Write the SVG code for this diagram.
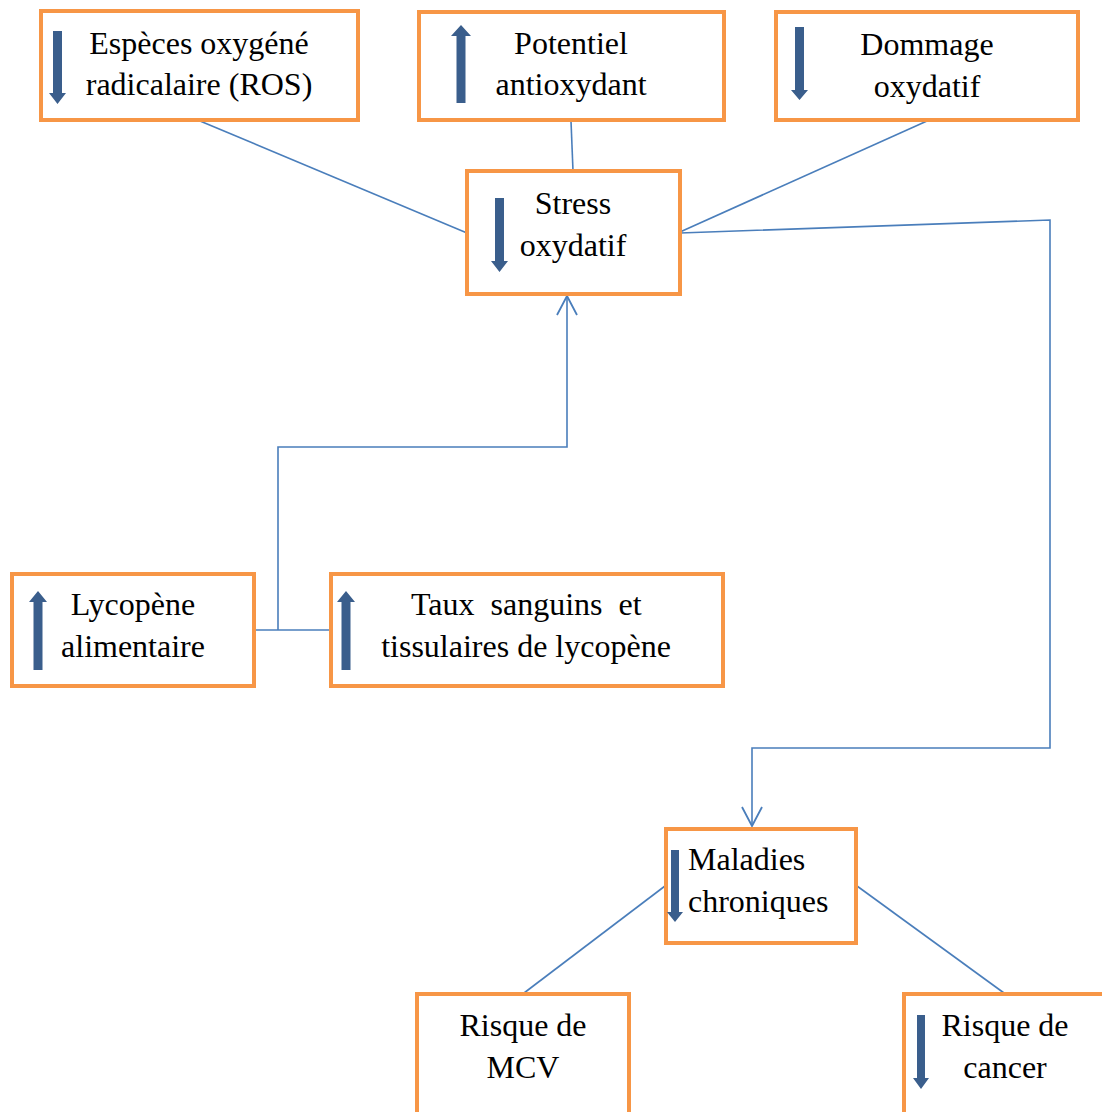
<svg xmlns="http://www.w3.org/2000/svg" width="1102" height="1112" viewBox="0 0 1102 1112">
<style>
.box{fill:#fff;stroke:#F79646;stroke-width:4}
.t{font-family:"Liberation Serif","Times New Roman",serif;font-size:32px;fill:#000}
.c{text-anchor:middle}
.ar{fill:#3A5E8C;stroke:none}
.ln{fill:none;stroke:#4A7EBB;stroke-width:1.6}
</style>
<defs>
<marker id="open" markerWidth="24" markerHeight="24" refX="20" refY="12" orient="auto" markerUnits="userSpaceOnUse">
<path d="M1,2 L20,12 L1,22" fill="none" stroke="#4A7EBB" stroke-width="1.8"/>
</marker>
</defs>
<rect width="1102" height="1112" fill="#fff"/>
<g id="connectors">
<line class="ln" x1="200" y1="121" x2="467" y2="233"/>
<line class="ln" x1="571" y1="121" x2="573" y2="171"/>
<line class="ln" x1="927" y1="121" x2="680" y2="232"/>
<polyline class="ln" points="680,233 1050,220 1050,748 752,748 752,826" marker-end="url(#open)"/>
<line class="ln" x1="255" y1="630" x2="330" y2="630"/>
<polyline class="ln" points="278,630 278,447 567,447 567,296" marker-end="url(#open)"/>
<line class="ln" x1="665" y1="886" x2="524" y2="993"/>
<line class="ln" x1="857" y1="886" x2="1004" y2="993"/>
</g>
<g id="n-ros">
<rect class="box" x="41" y="11" width="317" height="109"/>
<polygon class="ar" points="53,31 62,31 62,93 66,93 57.5,104 49,93 53,93"/>
<text class="t c" x="199" y="54">Espèces oxygéné</text>
<text class="t c" x="199" y="95">radicalaire (ROS)</text>
</g>
<g id="n-potentiel">
<rect class="box" x="419" y="12" width="305" height="108"/>
<polygon class="ar" points="456.5,103 465.5,103 465.5,36 471,36 461,25 451,36 456.5,36"/>
<text class="t c" x="571" y="54">Potentiel</text>
<text class="t c" x="571" y="95">antioxydant</text>
</g>
<g id="n-dommage">
<rect class="box" x="776" y="12" width="302" height="108"/>
<polygon class="ar" points="795,27 804,27 804,90 808,90 799.5,100 791,90 795,90"/>
<text class="t c" x="927" y="55">Dommage</text>
<text class="t c" x="927" y="97">oxydatif</text>
</g>
<g id="n-stress">
<rect class="box" x="467" y="171" width="213" height="123"/>
<polygon class="ar" points="495,198 504,198 504,261 508,261 499.5,272 491,261 495,261"/>
<text class="t c" x="573" y="214">Stress</text>
<text class="t c" x="573" y="256">oxydatif</text>
</g>
<g id="n-lycopene">
<rect class="box" x="12" y="574" width="242" height="112"/>
<polygon class="ar" points="33.5,670 42.5,670 42.5,602 47,602 38,591 29,602 33.5,602"/>
<text class="t c" x="133" y="615">Lycopène</text>
<text class="t c" x="133" y="657">alimentaire</text>
</g>
<g id="n-taux">
<rect class="box" x="331" y="574" width="392" height="112"/>
<polygon class="ar" points="341.5,670 350.5,670 350.5,602 355,602 346,591 337,602 341.5,602"/>
<text class="t" x="411" y="615" word-spacing="8">Taux sanguins et</text>
<text class="t c" x="526" y="657">tissulaires de lycopène</text>
</g>
<g id="n-maladies">
<rect class="box" x="666" y="829" width="190" height="114"/>
<polygon class="ar" points="671,850 679,850 679,912 683,912 675,922 667,912 671,912"/>
<text class="t" x="688" y="870">Maladies</text>
<text class="t" x="688" y="912">chroniques</text>
</g>
<g id="n-mcv">
<rect class="box" x="417" y="994" width="212" height="130"/>
<text class="t c" x="523" y="1036">Risque de</text>
<text class="t c" x="523" y="1078">MCV</text>
</g>
<g id="n-cancer">
<rect class="box" x="904" y="994" width="210" height="130"/>
<polygon class="ar" points="917,1015 925,1015 925,1078 929,1078 921,1089 913,1078 917,1078"/>
<text class="t c" x="1005" y="1036">Risque de</text>
<text class="t c" x="1005" y="1078">cancer</text>
</g>
</svg>
